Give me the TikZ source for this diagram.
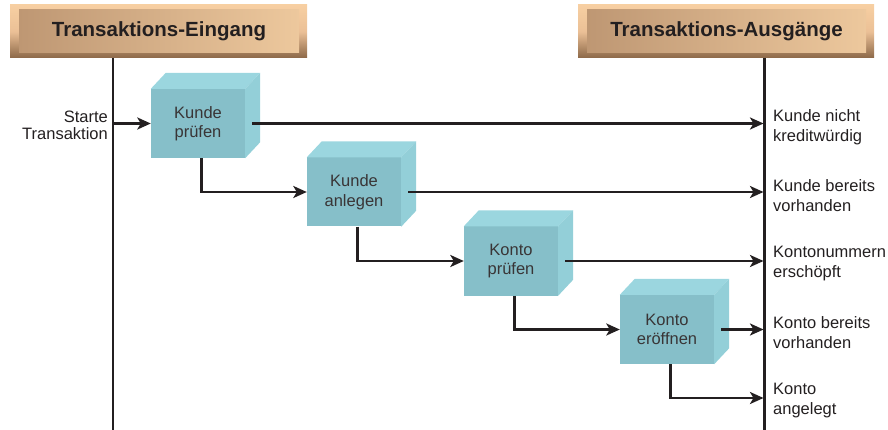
\documentclass[tikz,border=0pt]{standalone}
\usepackage{fontspec}
\setmainfont{Liberation Sans}
\usetikzlibrary{arrows.meta}

\definecolor{ink}{HTML}{231F20}
\definecolor{cubefront}{HTML}{86BFC9}
\definecolor{cubetop}{HTML}{9BD6DF}
\definecolor{cubeside}{HTML}{93CFD8}
\definecolor{framelight}{HTML}{F7CFA2}
\definecolor{framemid}{HTML}{EBC096}
\definecolor{framedark}{HTML}{8C6848}
\definecolor{panelleft}{HTML}{BE9773}
\definecolor{panelright}{HTML}{EDC89D}

\tikzset{
  hdrframe/.style={rectangle, inner sep=0pt, minimum width=297pt, minimum height=53pt,
    top color=framelight, bottom color=framedark, middle color=framemid},
  hdrpanel/.style={rectangle, inner sep=0pt, minimum height=43pt,
    left color=panelleft, right color=panelright, text=ink,
    font=\fontsize{20.5}{24}\selectfont\bfseries},
  cube/.style={rectangle, fill=cubefront, inner sep=0pt, minimum width=94pt,
    minimum height=69pt, align=center, text=ink!90,
    font=\fontsize{16.5}{19.5}\selectfont},
  lbl/.style={inner sep=0pt, align=left, text=ink, font=\fontsize{16.5}{20}\selectfont},
  lane/.style={draw=ink, line width=2.8pt},
  arr/.style={draw=ink, line width=2.6pt,
    -{Stealth[length=13.5pt,width=12pt,inset=3.5pt]}},
}

\begin{document}
\begin{tikzpicture}[x=1pt,y=-1pt]
\useasboundingbox (0,0) rectangle (888,430);

% column headers
\node[hdrframe] (inframe) at (158.5,31.5) {};
\node[hdrpanel, minimum width=280pt] (inhead) at (159,31.5) {Transaktions-Eingang};
\node[hdrframe, minimum width=296pt] (outframe) at (726,31.5) {};
\node[hdrpanel, minimum width=279pt] (outhead) at (726.5,31.5) {Transaktions-Ausgänge};

% lanes
\coordinate (intop) at (113,58);
\coordinate (inbot) at (113,430);
\coordinate (outtop) at (764.5,58);
\coordinate (outbot) at (764.5,430);
\draw[lane] (intop) -- (inbot);
\draw[lane] (outtop) -- (outbot);

% process steps (front faces)
\node[cube] (k1) at (198,123.5) {Kunde\\prüfen};
\node[cube] (k2) at (354,192) {Kunde\\anlegen};
\node[cube] (k3) at (511,261) {Konto\\prüfen};
\node[cube] (k4) at (667,329.5) {Konto\\eröffnen};

% top and side faces of the blocks
\foreach \k in {k1,k2,k3,k4}{
  \fill[cubetop] (\k.north west) -- ++(15,-16) -- ([shift={(15,-16)}]\k.north east)
    -- (\k.north east) -- cycle;
  \fill[cubeside] (\k.north east) -- ++(15,-16) -- ([shift={(15,-16)}]\k.south east)
    -- (\k.south east) -- cycle;
}

% entry
\coordinate (start) at (113,123.5);
\node[lbl, align=right, anchor=east, font=\fontsize{16.5}{17}\selectfont] (startlbl)
  at (108,125.5) {Starte\\Transaktion};
\draw[arr] (start) -- (k1.west);

% exits
\coordinate (o1) at (763.5,123.5);
\coordinate (o2) at (763.5,192);
\coordinate (o3) at (763.5,261);
\coordinate (o4) at (763.5,329.5);
\coordinate (o5) at (763.5,398);

\draw[arr] ([xshift=7pt]k1.east) -- (o1);
\draw[arr] ([xshift=7pt]k2.east) -- (o2);
\draw[arr] ([xshift=7pt]k3.east) -- (o3);
\draw[arr] ([xshift=7pt]k4.east) -- (o4);

% step to step
\draw[arr] ([xshift=3.5pt]k1.south) |- (k2.west);
\draw[arr] ([xshift=3.5pt]k2.south) |- (k3.west);
\draw[arr] ([xshift=3.5pt]k3.south) |- (k4.west);
\draw[arr] ([xshift=3.5pt]k4.south) |- (o5);

% exit labels
\node[lbl, anchor=west] (l1) at (773,127) {Kunde nicht\\kreditwürdig};
\node[lbl, anchor=west] (l2) at (773,195.5) {Kunde bereits\\vorhanden};
\node[lbl, anchor=west] (l3) at (773,264) {Kontonummern\\erschöpft};
\node[lbl, anchor=west] (l4) at (773,332.5) {Konto bereits\\vorhanden};
\node[lbl, anchor=west] (l5) at (773,401) {Konto\\angelegt};
\end{tikzpicture}
\end{document}
